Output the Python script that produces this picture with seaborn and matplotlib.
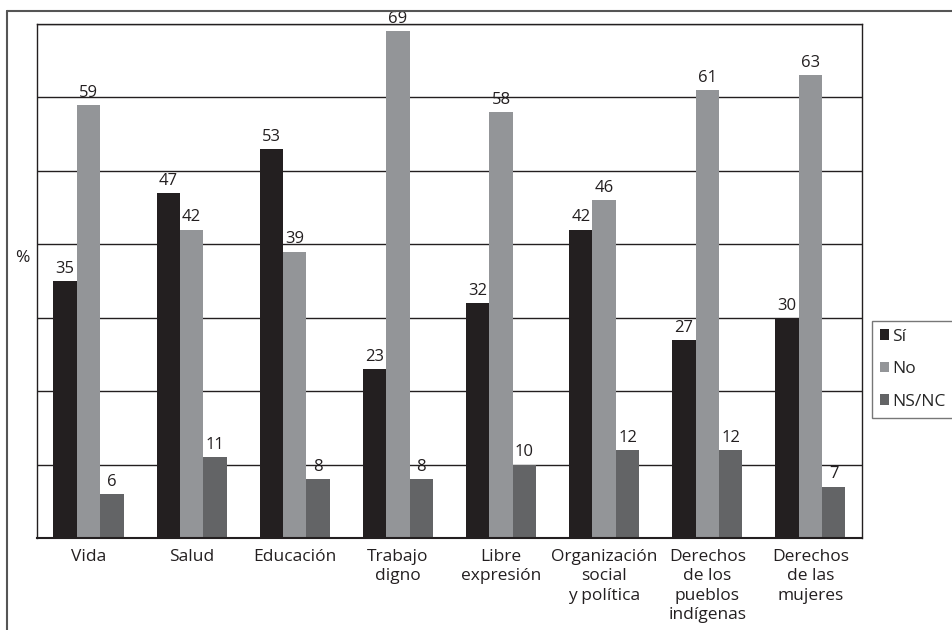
#!/usr/bin/env python3
"""Percepción de respeto a derechos - barras agrupadas"""

import numpy as np
import pandas as pd
import matplotlib
matplotlib.use('Agg')
import matplotlib.pyplot as plt
from matplotlib.lines import Line2D
from matplotlib.patches import Patch
import seaborn as sns

# Datos
categorias = ['Vida', 'Salud', 'Educación', 'Trabajo\ndigno', 'Libre\nexpresión',
              'Organización\nsocial\ny política', 'Derechos\nde los\npueblos\nindígenas',
              'Derechos\nde las\nmujeres']
series = ['Sí', 'No', 'NS/NC']
si = [35, 47, 53, 23, 32, 42, 27, 30]
no = [59, 42, 39, 69, 58, 46, 61, 63]
nsnc = [6, 11, 8, 8, 10, 12, 12, 7]
colores = ['#231f20', '#939598', '#636466']

df = pd.DataFrame({
    'categoria': categorias * 3,
    'serie': ['Sí'] * 8 + ['No'] * 8 + ['NS/NC'] * 8,
    'valor': si + no + nsnc,
})

sns.set_style('white')
plt.rcParams['font.family'] = ['Open Sans', 'DejaVu Sans']

fig = plt.figure(figsize=(9.53, 6.3), dpi=100)
ax = fig.add_axes([0.0388, 0.146, 0.8657, 0.816])

sns.barplot(data=df, x='categoria', y='valor', hue='serie', order=categorias,
            hue_order=series, palette=colores, width=0.68, gap=0,
            saturation=1, ax=ax, legend=False, linewidth=0)

# Etiquetas de valor
for cont in ax.containers:
    ax.bar_label(cont, labels=[f'{v:.0f}' for v in cont.datavalues],
                 padding=3, fontsize=12, color='#231f20')

ax.set_ylim(0, 70)
ax.set_xlim(-0.5, len(categorias) - 0.5)
ax.set_yticks(np.arange(0, 71, 10))
ax.set_yticklabels([])
ax.tick_params(axis='y', length=0)
ax.yaxis.grid(True, color='#231f20', linewidth=1)
ax.set_axisbelow(True)

# Marcas entre grupos
ax.set_xticks(np.arange(len(categorias)))
ax.set_xticklabels(categorias, fontsize=12.5, color='#231f20',
                   multialignment='center', linespacing=1.28)
ax.tick_params(axis='x', which='major', length=0, pad=8)
ax.set_xticks(np.arange(-0.5, len(categorias), 1), minor=True)
ax.tick_params(axis='x', which='minor', length=5, direction='out',
               color='#231f20', width=1.2)

ax.set_xlabel('')
ax.set_ylabel('')
fig.text(22 / 953, 1 - 258 / 630, '%', fontsize=12.5, color='#231f20',
         ha='center', va='center')

for s in ax.spines.values():
    s.set_visible(True)
    s.set_color('#231f20')
    s.set_linewidth(1)
ax.spines['bottom'].set_linewidth(1.5)

# Leyenda
handles = [Patch(facecolor=c, edgecolor='none') for c in colores]
leg = fig.legend(handles, series, loc='upper left',
                 bbox_to_anchor=(872 / 953, 1 - 321 / 630),
                 frameon=True, fancybox=False, fontsize=12.5,
                 handlelength=0.55, handleheight=0.55, handletextpad=0.15,
                 labelspacing=0.95, borderpad=0.45, borderaxespad=0)
leg.get_frame().set_edgecolor('#555555')
leg.get_frame().set_linewidth(1)

# Marco exterior
fig.add_artist(Line2D([7 / 953, 7 / 953], [0, 1 - 11 / 630], color='#555555', linewidth=1.5))
fig.add_artist(Line2D([7 / 953, 1], [1 - 11 / 630, 1 - 11 / 630], color='#555555', linewidth=1.5))

fig.savefig('out.png', dpi=100)
